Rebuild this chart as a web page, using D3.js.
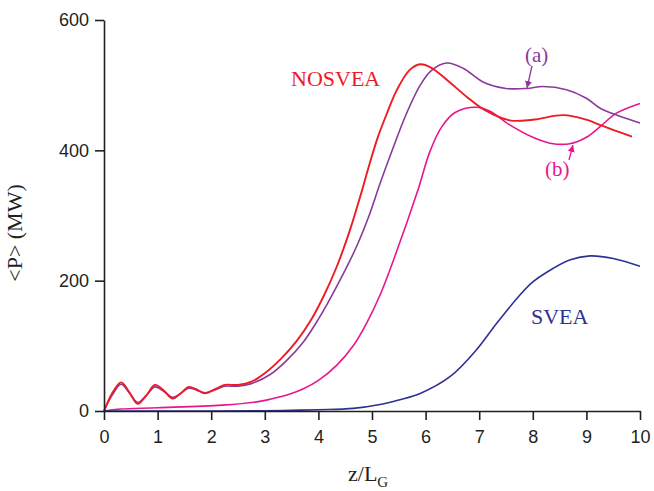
<!DOCTYPE html>
<html>
  <head>
    <meta charset="utf-8">
    <title></title>
    <script src="https://cdn.jsdelivr.net/npm/d3@7"></script>
    <style>
      body{margin:0;background:#fff;}
    </style>
  </head>
  <body>
    <script>
    // NOSVEA (red)
    let zRed=[0,0.15,0.32,0.47,0.63,0.79,0.95,1.12,1.28,1.43,1.58,1.73,1.88,2.06,2.25,2.5,2.75,3.0,3.3,3.6,3.85,4.09,4.34,4.59,4.78,4.95,5.1,5.27,5.46,5.7,5.9,6.1,6.4,6.77,7.1,7.57,8.0,8.57,9.0,9.25,9.55,9.85];
    let pRed=[0,27,44,29,11,24,40,31,19,27,37,33,27,33,40,40,45,58,80,108,138,175,221,278,329,378,418,455,492,523,532,527,508,482,462,446,447,454,447,439,430,421];
    // (a) purple
    let zA=[0,0.15,0.32,0.47,0.63,0.79,0.95,1.12,1.28,1.43,1.58,1.73,1.88,2.06,2.25,2.5,2.75,3.1,3.4,3.72,4.0,4.34,4.71,4.96,5.15,5.4,5.62,5.9,6.1,6.39,6.7,7.07,7.5,7.89,8.19,8.63,9.0,9.25,9.6,10];
    let pA=[0,24,41,28,13,24,37,30,21,27,35,32,28,32,38,38,42,56,77,106,141,191,252,303,349,405,452,500,522,534,526,505,495,495,498,493,480,465,453,442];
    // (b) pink
    let zB=[0,0.3,1.0,2.2,2.85,3.1,3.47,3.72,4.0,4.34,4.65,4.9,5.15,5.46,5.86,6.08,6.3,6.55,6.95,7.2,7.57,8.0,8.32,8.69,9.0,9.25,9.56,10];
    let pB=[0,3,5,9,14,18,26,34,47,70,100,135,178,245,340,398,436,458,466,460,439,420,411,410,420,436,457,472];
    // SVEA (blue)
    let zS=[0,2,3,3.5,4,4.65,5.15,5.5,5.9,6.46,6.95,7.33,7.76,8.0,8.26,8.7,9.07,9.5,10];
    let pS=[0,0,0.3,1,2,4,10,17,27,53,94,135,178,198,213,232,238,234,222];

    let xTicks=[0,1,2,3,4,5,6,7,8,9,10];
    let yTicks=[0,200,400,600];

    let svg=d3.select('body').append('svg').attr('width', 654).attr('height', 491);

    let x=d3.scaleLinear().domain([0,10]).range([104,640]);
    let y=d3.scaleLinear().domain([0,600]).range([411,20]);

    //曲线
    let line=d3.line().x(d=>x(d[0])).y(d=>y(d[1])).curve(d3.curveCatmullRom.alpha(0.5));
    let series=[
      {z:zB, p:pB, color:'#e8168c', w:1.6},
      {z:zS, p:pS, color:'#2e3192', w:1.6},
      {z:zA, p:pA, color:'#8b3a9b', w:1.6},
      {z:zRed, p:pRed, color:'#ed1c24', w:1.9}
    ];
    series.forEach(s=>{
      svg.append('path')
        .attr('d', line(s.z.map((v,i)=>[v, s.p[i]])))
        .attr('fill', 'none')
        .attr('stroke', s.color)
        .attr('stroke-width', s.w);
    });

    //坐标轴
    let axisColor='#231f20';
    let gx=svg.append('g').attr('transform', 'translate(0,411)');
    gx.call(d3.axisBottom(x).tickValues(d3.range(0.5,10,1)).tickSize(5).tickSizeOuter(0).tickFormat(''));
    gx.call(d3.axisBottom(x).tickValues(xTicks).tickSize(9).tickSizeOuter(0).tickPadding(10));

    let gy=svg.append('g').attr('transform', 'translate(104,0)');
    gy.call(d3.axisLeft(y).tickValues([100,300,500]).tickSize(5).tickSizeOuter(0).tickFormat(''));
    gy.call(d3.axisLeft(y).tickValues(yTicks).tickSize(9).tickSizeOuter(0).tickPadding(6));

    svg.selectAll('.domain, .tick line').attr('stroke', axisColor).attr('stroke-width', 1.6);
    svg.selectAll('.tick text').attr('fill', axisColor)
      .style('font-family', 'Liberation Sans, Arial, sans-serif').style('font-size', '18px');

    //标题
    let serif='Liberation Serif, Times New Roman, serif';
    svg.append('text').attr('transform', 'translate(22,233) rotate(-90)')
      .attr('text-anchor', 'middle').style('font-family', serif).style('font-size', '22px')
      .attr('fill', axisColor).text('<P> (MW)');

    let xl=svg.append('text').attr('x', 348).attr('y', 481)
      .style('font-family', serif).style('font-size', '22px').attr('fill', axisColor);
    xl.append('tspan').text('z/L');
    xl.append('tspan').attr('dy', 6).style('font-size', '15px').text('G');

    svg.append('text').attr('x', 291).attr('y', 86)
      .style('font-family', serif).style('font-size', '22px').attr('fill', '#ed1c24').text('NOSVEA');
    svg.append('text').attr('x', 531).attr('y', 324)
      .style('font-family', serif).style('font-size', '22px').attr('fill', '#2e3192').text('SVEA');

    //标注
    let defs=svg.append('defs');
    [['ma','#8b3a9b'],['mb','#e8168c']].forEach(m=>{
      defs.append('marker').attr('id', m[0]).attr('viewBox', '0 0 10 10')
        .attr('refX', 10).attr('refY', 5).attr('markerWidth', 7).attr('markerHeight', 7)
        .attr('orient', 'auto').attr('markerUnits', 'userSpaceOnUse')
        .append('path').attr('d', 'M0,0 L10,5 L0,10 z').attr('fill', m[1]);
    });

    svg.append('text').attr('x', 525).attr('y', 62)
      .style('font-family', serif).style('font-size', '21px').attr('fill', '#8b3a9b').text('(a)');
    svg.append('line').attr('x1', 532).attr('y1', 66).attr('x2', 527).attr('y2', 88)
      .attr('stroke', '#8b3a9b').attr('stroke-width', 1.3).attr('marker-end', 'url(#ma)');

    svg.append('text').attr('x', 545).attr('y', 176)
      .style('font-family', serif).style('font-size', '21px').attr('fill', '#e8168c').text('(b)');
    svg.append('line').attr('x1', 569).attr('y1', 160).attr('x2', 573).attr('y2', 145)
      .attr('stroke', '#e8168c').attr('stroke-width', 1.3).attr('marker-end', 'url(#mb)');
    </script>
  </body>
</html>
